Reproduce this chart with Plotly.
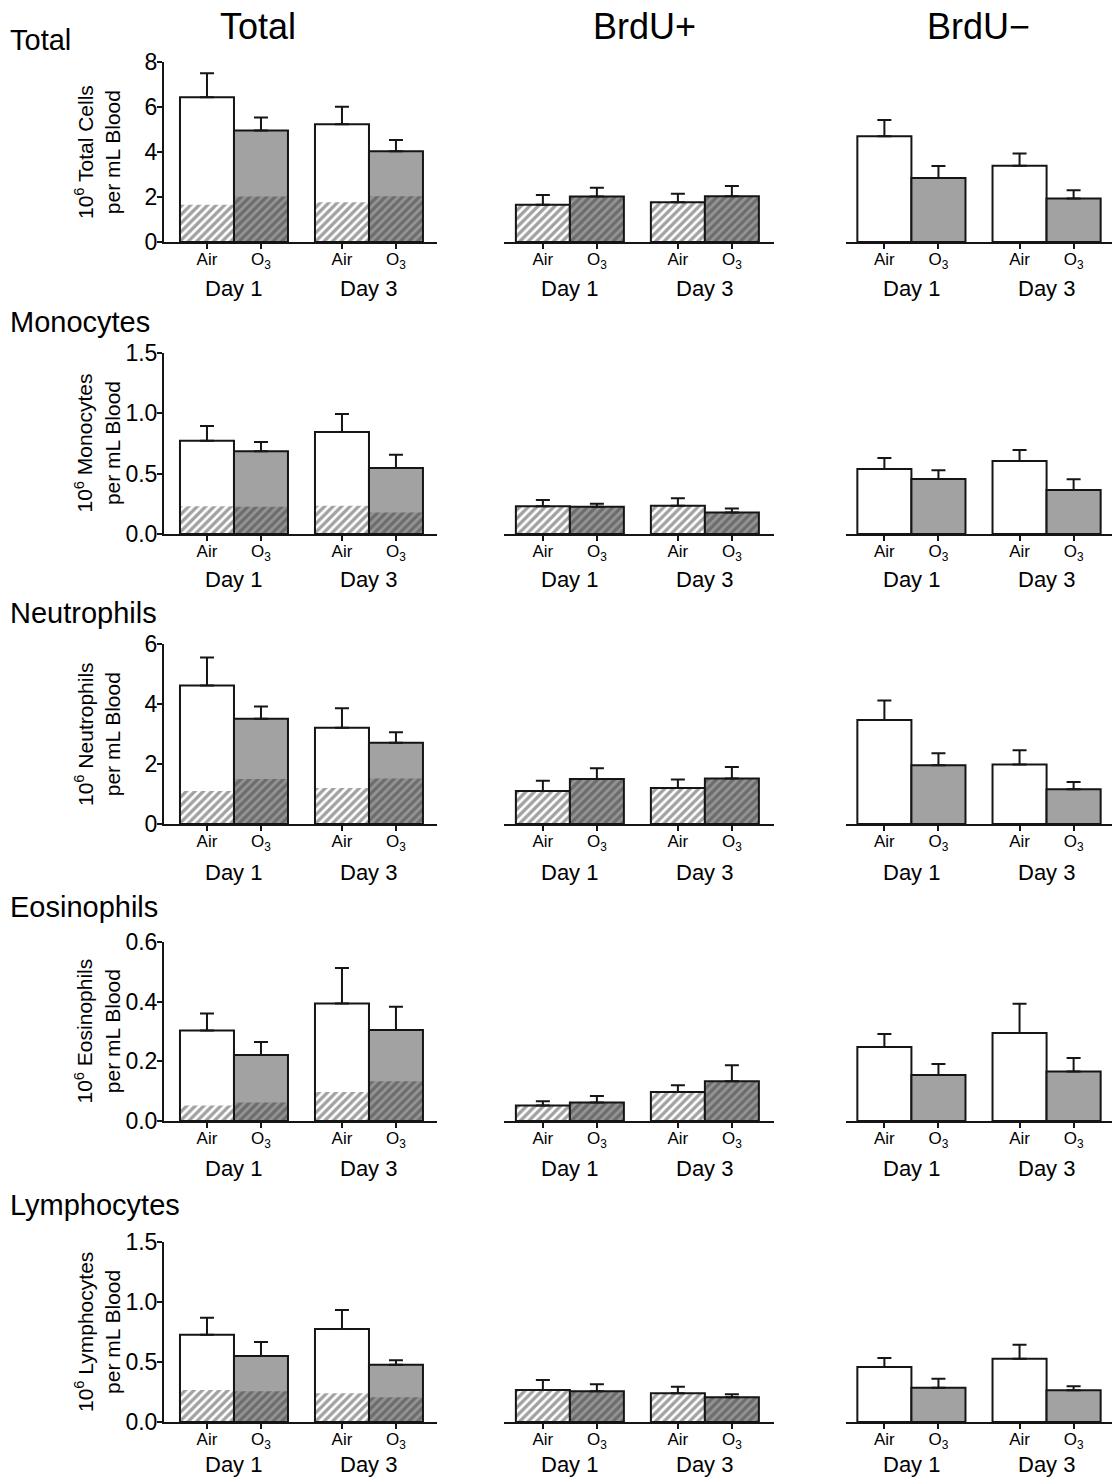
import plotly.graph_objects as go

# ---------------- data ----------------
row_names = ["Total", "Monocytes", "Neutrophils", "Eosinophils", "Lymphocytes"]
row_ylabels = ["Total Cells", "Monocytes", "Neutrophils", "Eosinophils", "Lymphocytes"]
col_titles = ["Total", "BrdU+", "BrdU\u2212"]
groups = ["Air", "O<sub>3</sub>", "Air", "O<sub>3</sub>"]
days = ["Day 1", "Day 3"]

# order: Air D1, O3 D1, Air D3, O3 D3
total_mean = [
    [6.43, 4.96, 5.23, 4.03],
    [0.773, 0.685, 0.845, 0.547],
    [4.62, 3.51, 3.21, 2.71],
    [0.303, 0.221, 0.394, 0.305],
    [0.728, 0.550, 0.775, 0.478],
]
total_sem = [
    [1.07, 0.57, 0.78, 0.50],
    [0.122, 0.077, 0.149, 0.110],
    [0.93, 0.41, 0.65, 0.35],
    [0.057, 0.044, 0.119, 0.078],
    [0.141, 0.117, 0.158, 0.036],
]
brdu_pos_mean = [
    [1.66, 2.02, 1.77, 2.03],
    [0.230, 0.225, 0.235, 0.178],
    [1.10, 1.50, 1.20, 1.52],
    [0.052, 0.062, 0.097, 0.133],
    [0.266, 0.257, 0.240, 0.207],
]
brdu_pos_sem = [
    [0.43, 0.39, 0.37, 0.46],
    [0.052, 0.025, 0.061, 0.033],
    [0.34, 0.36, 0.28, 0.38],
    [0.014, 0.022, 0.023, 0.054],
    [0.084, 0.058, 0.053, 0.025],
]
brdu_neg_mean = [
    [4.70, 2.84, 3.39, 1.93],
    [0.539, 0.456, 0.605, 0.365],
    [3.47, 1.96, 1.98, 1.16],
    [0.248, 0.154, 0.295, 0.166],
    [0.458, 0.286, 0.528, 0.264],
]
brdu_neg_sem = [
    [0.72, 0.54, 0.54, 0.37],
    [0.091, 0.072, 0.091, 0.088],
    [0.65, 0.40, 0.48, 0.24],
    [0.044, 0.037, 0.098, 0.045],
    [0.075, 0.075, 0.116, 0.033],
]
y_max = [8, 1.5, 6, 0.6, 1.5]
y_dtick = [2, 0.5, 2, 0.2, 0.5]
y_fmt = ["d", ".1f", "d", ".1f", ".1f"]

# ---------------- layout constants ----------------
W, H = 1112, 1477
FONT = "Liberation Sans, Arial, Helvetica, sans-serif"
xpos = [0, 1, 2.5, 3.5]
col_px = [(164, 437), (504, 774), (846, 1112)]
x_ranges = [(-0.796, 4.26), (-0.72, 4.28), (-0.71, 4.21)]
row_px = [(62, 242), (353, 534), (644, 824), (942, 1121), (1242, 1422)]
day_offset_px = [47, 46, 48, 47, 42]
row_label_px = [40, 322, 613, 907, 1205]
col_title_px = [258, 645, 978]

WHITE = "white"
GRAY = "#a2a2a2"
HATCH_BG = ["white", "#959595", "white", "#959595"]
FILL = [WHITE, GRAY, WHITE, GRAY]
EDGE = "#151515"


def px_x(p):
    return p / W


def px_y(p):
    return 1 - p / H


fig = go.Figure()
layout = dict(
    width=W, height=H, margin=dict(l=0, r=0, t=0, b=0, autoexpand=False),
    paper_bgcolor="white", plot_bgcolor="white",
    barmode="overlay", showlegend=False,
    font=dict(family=FONT, color="black"),
)
annotations = []


def err(sem):
    return dict(type="data", symmetric=False, array=sem, arrayminus=[0] * len(sem),
                color=EDGE, thickness=2, width=7)


pattern = dict(shape="/", fgcolor="#000000", bgcolor=HATCH_BG, size=6, solidity=0.55)

for r in range(5):
    for c in range(3):
        idx = r * 3 + c + 1
        xa = "x" if idx == 1 else f"x{idx}"
        ya = "y" if idx == 1 else f"y{idx}"
        xk = "xaxis" if idx == 1 else f"xaxis{idx}"
        yk = "yaxis" if idx == 1 else f"yaxis{idx}"
        if c == 0:
            fig.add_trace(go.Bar(x=xpos, y=total_mean[r], width=1, xaxis=xa, yaxis=ya,
                                 marker=dict(color=FILL, line=dict(width=0))))
            fig.add_trace(go.Bar(x=xpos, y=brdu_pos_mean[r], width=1, xaxis=xa, yaxis=ya,
                                 marker=dict(color=HATCH_BG, pattern=pattern, line=dict(width=0))))
            fig.add_trace(go.Bar(x=xpos, y=total_mean[r], width=1, xaxis=xa, yaxis=ya,
                                 marker=dict(color="rgba(0,0,0,0)", line=dict(color=EDGE, width=2)),
                                 error_y=err(total_sem[r])))
        elif c == 1:
            fig.add_trace(go.Bar(x=xpos, y=brdu_pos_mean[r], width=1, xaxis=xa, yaxis=ya,
                                 marker=dict(color=HATCH_BG, pattern=pattern,
                                             line=dict(color=EDGE, width=2)),
                                 error_y=err(brdu_pos_sem[r])))
        else:
            fig.add_trace(go.Bar(x=xpos, y=brdu_neg_mean[r], width=1, xaxis=xa, yaxis=ya,
                                 marker=dict(color=FILL, line=dict(color=EDGE, width=2)),
                                 error_y=err(brdu_neg_sem[r])))

        layout[xk] = dict(
            domain=[px_x(col_px[c][0]), px_x(col_px[c][1])], anchor=ya,
            range=list(x_ranges[c]), tickvals=xpos, ticktext=groups,
            showline=True, linecolor=EDGE, linewidth=2,
            ticks="outside", ticklen=5, tickwidth=2, tickcolor=EDGE,
            ticklabelstandoff=-4, automargin=False,
            showgrid=False, zeroline=False,
            tickfont=dict(size=17, family=FONT, color="black"),
        )
        ydict = dict(
            domain=[px_y(row_px[r][1]), px_y(row_px[r][0])], anchor=xa,
            range=[0, y_max[r]], showgrid=False, zeroline=False, automargin=False,
        )
        if c == 0:
            ydict.update(showline=True, linecolor=EDGE, linewidth=2, ticks="outside",
                         ticklen=5, tickwidth=2, tickcolor=EDGE, dtick=y_dtick[r],
                         ticklabelstandoff=-5,
                         tickformat=y_fmt[r], tickfont=dict(size=23, family=FONT, color="black"))
        else:
            ydict.update(showline=False, showticklabels=False, ticks="")
        layout[yk] = ydict

        # day labels
        for d, day in enumerate(days):
            annotations.append(dict(
                x=(xpos[2 * d] + xpos[2 * d + 1]) / 2, xref=xa,
                y=px_y(row_px[r][1] + day_offset_px[r]), yref="paper",
                text=day, showarrow=False, xanchor="center", yanchor="middle",
                font=dict(size=22, family=FONT, color="black")))

    # row label
    annotations.append(dict(x=px_x(8), y=px_y(row_label_px[r]), xref="paper", yref="paper",
                            text=row_names[r], showarrow=False, xanchor="left", yanchor="middle",
                            font=dict(size=29, family=FONT, color="black")))
    # y title
    annotations.append(dict(x=px_x(97), y=px_y((row_px[r][0] + row_px[r][1]) / 2),
                            xref="paper", yref="paper",
                            text=f"10<sup>6</sup> {row_ylabels[r]}<br>per mL Blood",
                            showarrow=False, textangle=-90, xanchor="center", yanchor="middle",
                            font=dict(size=21, family=FONT, color="black")))

for c, t in enumerate(col_titles):
    annotations.append(dict(x=px_x(col_title_px[c]), y=px_y(26), xref="paper", yref="paper",
                            text=t, showarrow=False, xanchor="center", yanchor="middle",
                            font=dict(size=36, family=FONT, color="black")))

layout["annotations"] = annotations
fig.update_layout(**layout)
fig.write_html(
    "out.html",
    config={"displayModeBar": False},
    post_script=(
        "document.documentElement.style.margin='0';"
        "document.documentElement.style.overflow='hidden';"
        "document.body.style.margin='0';document.body.style.overflow='hidden';"
        "var gd=document.getElementById('{plot_id}');"
        "gd.style.position='fixed';gd.style.top='0px';gd.style.left='0px';"
    ),
)
